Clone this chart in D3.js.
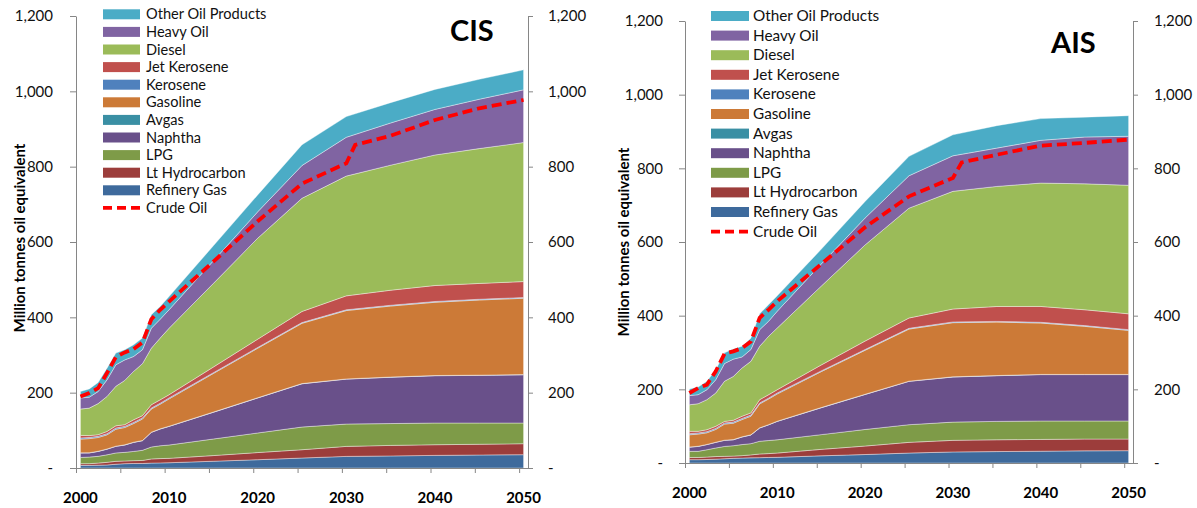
<!DOCTYPE html>
<html>
<head>
<meta charset="utf-8">
<script src="https://cdn.jsdelivr.net/npm/d3@7"></script>
<style>
body{margin:0;background:#fff;}
svg{font-family:Lato,"Open Sans",sans-serif;}
.axis path,.axis line{stroke:#868686;}
.axis text{font-size:15px;fill:#111;font-family:Lato,"Open Sans",sans-serif;}
</style>
</head>
<body>
<svg id="chart" width="1197" height="508"></svg>
<script>
// years used by the stacked areas and by the crude oil line
var stackYears = [2000,2001,2002,2003,2004,2005,2006,2007,2008,2009,2010,2015,2020,2025,2030,2035,2040,2045,2050];
var crudeYears = [2000,2001,2002,2003,2004,2005,2006,2007,2008,2009,2010,2015,2020,2025,2030,2031,2035,2040,2045,2050];

// bottom to top
var seriesKeys = ["Refinery Gas","Lt Hydrocarbon","LPG","Naphtha","Avgas","Gasoline","Kerosene","Jet Kerosene","Diesel","Heavy Oil","Other Oil Products"];
var seriesColors = ["#3E6A9C","#9C3D3B","#7E9B48","#69508A","#3A8FA4","#CC7A37","#4F81BD","#C0504D","#9BBB59","#8064A2","#4BACC6"];

var yTicks = [0,200,400,600,800,1000,1200];
var xLabelYears = [2000,2010,2020,2030,2040,2050];

// CIS (million tonnes oil equivalent)
var cisRefinery = [7,7,7.5,8,10,11.5,12,12,13,13.5,14,18,22,26.5,30.8,32,33.5,34.5,35.3];
var cisLtHydro = [4.5,4.5,5.5,7,7.7,7.1,7.5,8,11,11.5,11.6,15,19,22,26.6,28,28.3,28.5,29.2];
var cisLPG = [16.5,17.5,18,20,22.3,22.9,24.5,27,31.7,34,35.4,44,52,60.3,59.3,58,57.6,56.4,54.9];
var cisNaphtha = [11.8,11,13,15,17.5,19.5,24,25.5,38.9,44.5,49.5,71,93,114.8,119.3,123,125.6,126.6,128.1];
var cisAvgas = [0.5,0.5,0.5,0.5,0.5,0.5,0.5,0.5,0.5,0.5,0.5,0.5,0.5,0.5,0.5,0.5,0.5,0.5,0.5];
var cisGasoline = [36.3,37.5,36.5,37.5,45,46,49.5,57,61.4,65.5,72.5,102.5,131.5,160,181.5,188.5,194.5,199.5,202.6];
var cisKerosene = [3,3,3,3,3,3,3,3,2.5,2.5,2.5,2,2,2,2,2,2,2,2];
var cisJet = [7,5,4.4,6,6,4.5,7,6,9,9,8.5,15,22,29.5,37,40,42.5,42,42.4];
var cisDiesel = [69.9,73,82.6,93,105,117.5,128.5,138,150,164,176.5,222,268,300.5,318,332,346.5,358,369];
var cisHeavy = [29.5,29,32,44,57,54.5,39.5,37,53,50,49,60,70,87,103,112,121,131,140];
var cisOther = [17,22,24,31,31,27,31,31,36,34,35,40,45,55,55,54,53,53,53];
var cisCrude = [190,199,212,252,294.5,307,316,333,395,420,442,548,655,755,809,858,882,924,955,977];

// AIS
var aisRefinery = [9,9,9.5,10.5,11.5,12.7,13.3,14,14.5,15,15.4,19.5,23,27,30,31,32,33,33.5];
var aisLtHydro = [6,6,6.5,7,6.5,6,6.7,8,9.9,10.5,11.6,17.5,23,29,31.5,32,32,32,31.5];
var aisLPG = [16.7,16.7,20,23.2,27,28.3,30,30.5,34.6,35.5,36,40,45,48,49.5,50,50,49,49];
var aisNaphtha = [11.3,13.3,14,15.3,16.5,16,20.6,23.5,36,42.5,50,73,95,117.7,122.5,124,126,126,126];
var aisAvgas = [0.5,0.5,0.5,0.5,0.5,0.5,0.5,0.5,0.5,0.5,0.5,0.5,0.5,0.5,0.5,0.5,0.5,0.5,0.5];
var aisGasoline = [33.1,33,31.5,34.5,43.6,44.5,46.9,50.5,65,69.5,74,97.5,119.5,141.4,147,145,139.5,130.5,119.5];
var aisKerosene = [3,3,3,3,3,3,3,3,2.5,2.5,2.5,2,2,2,2,2,2,2,2];
var aisJet = [6.4,4.5,5.5,5.5,4.4,5,6,6,9,9,9,16,23,28,35,40.4,43,43,43];
var aisDiesel = [72,75,81.5,90.5,109,119,131,140,145,158.5,167.5,214,261,298.3,319.6,326,335,342,349];
var aisHeavy = [25,24.5,27,36,48,47,30,32,45,41,45.5,60,73,88,96.4,104,116,127,133];
var aisOther = [18,20.5,23,27,29,27.5,29,31,43,45,42,40,45,52.6,57,61,59,54,56];
var aisCrude = [190,203.6,212.7,249,297,303,312,330,394,416,439,540,640,724,774,816,837,861.6,869,878];

var makeRows = function(arrays)
{
    return stackYears.map(function(yr,i)
    {
        var row = {year:yr};
        seriesKeys.forEach(function(k,j){ row[k] = arrays[j][i]; });
        return row;
    });
}

var svg = d3.select("#chart");

var drawPanel = function(rows,crude,p)
{
    var xScale = d3.scaleLinear().domain([1999.5,2050.5]).range([p.left,p.right]);
    var yScale = d3.scaleLinear().domain([0,1200]).range([p.bottom,p.top]);
    var colorScale = d3.scaleOrdinal().domain(seriesKeys).range(seriesColors);

    var stacked = d3.stack().keys(seriesKeys)(rows);
    var area = d3.area()
        .x(function(d){ return xScale(d.data.year); })
        .y0(function(d){ return yScale(d[0]); })
        .y1(function(d){ return yScale(d[1]); });

    var g = svg.append("g");
    g.selectAll("path.layer")
        .data(stacked)
        .enter()
        .append("path")
        .attr("class","layer")
        .attr("d",area)
        .attr("fill",function(s){ return colorScale(s.key); })
        .attr("stroke","rgba(255,255,255,0.55)")
        .attr("stroke-width",0.7);

    var line = d3.line()
        .x(function(d,i){ return xScale(crudeYears[i]); })
        .y(function(d){ return yScale(d); });
    g.append("path")
        .datum(crude)
        .attr("d",line)
        .attr("fill","none")
        .attr("stroke","#FF0000")
        .attr("stroke-width",3.8)
        .attr("stroke-dasharray","10,5");

    var fmt = function(v){ return v==0 ? "-" : d3.format(",")(v); };

    svg.append("g").attr("class","axis")
        .attr("transform","translate("+p.left+",0)")
        .call(d3.axisLeft(yScale).tickValues(yTicks).tickFormat(fmt).tickSize(6).tickSizeOuter(0).tickPadding(p.leftPad));
    svg.append("g").attr("class","axis")
        .attr("transform","translate("+p.right+",0)")
        .call(d3.axisRight(yScale).tickValues(yTicks).tickFormat(fmt).tickSize(5).tickSizeOuter(0).tickPadding(p.rightPad))
        .selectAll("text").attr("x",p.rightPad+5);

    var xTicks = d3.range(0,11).map(function(k){ return 1999.5+5*k; });
    svg.append("g").attr("class","axis")
        .attr("transform","translate(0,"+p.bottom+")")
        .call(d3.axisBottom(xScale).tickValues(xTicks).tickFormat("").tickSize(5).tickSizeOuter(0));

    svg.append("g").selectAll("text")
        .data(xLabelYears)
        .enter()
        .append("text")
        .text(function(d){ return d; })
        .attr("x",function(d){ return xScale(d); })
        .attr("y",p.xLabelY)
        .attr("text-anchor","middle")
        .attr("font-weight","bold")
        .attr("font-size","15px");

    svg.append("text")
        .text("Million tonnes oil equivalent")
        .attr("text-anchor","middle")
        .attr("font-weight","bold")
        .attr("font-size","15px")
        .attr("transform","translate("+p.yTitleX+","+p.yTitleY+") rotate(-90)");

    svg.append("text")
        .text(p.title)
        .attr("x",p.titleX)
        .attr("y",p.titleY)
        .attr("font-weight","bold")
        .attr("font-size","29px");

    // legend, top entry first
    var entries = seriesKeys.slice().reverse().map(function(k){ return {name:k,color:colorScale(k),line:false}; });
    entries.push({name:"Crude Oil",color:"#FF0000",line:true});

    var legend = svg.append("g")
        .attr("transform","translate("+p.legendX+","+p.legendY+")");
    var items = legend.selectAll("g")
        .data(entries)
        .enter()
        .append("g")
        .attr("transform",function(d,i){ return "translate(0,"+(i*p.legendStep)+")"; });

    items.filter(function(d){ return !d.line; })
        .append("rect")
        .attr("x",0).attr("y",-5)
        .attr("width",p.swatchW).attr("height",10)
        .attr("fill",function(d){ return d.color; });
    items.filter(function(d){ return d.line; })
        .append("line")
        .attr("x1",0).attr("x2",p.swatchW).attr("y1",0).attr("y2",0)
        .attr("stroke","#FF0000").attr("stroke-width",3.8)
        .attr("stroke-dasharray","9,5");
    items.append("text")
        .text(function(d){ return d.name; })
        .attr("x",p.swatchW+p.textGap)
        .attr("y",5)
        .attr("font-size",p.legendFont+"px")
        .attr("fill","#111");
}

var cisRows = makeRows([cisRefinery,cisLtHydro,cisLPG,cisNaphtha,cisAvgas,cisGasoline,cisKerosene,cisJet,cisDiesel,cisHeavy,cisOther]);
var aisRows = makeRows([aisRefinery,aisLtHydro,aisLPG,aisNaphtha,aisAvgas,aisGasoline,aisKerosene,aisJet,aisDiesel,aisHeavy,aisOther]);

drawPanel(cisRows,cisCrude,{
    left:76,right:528,top:16,bottom:468,leftPad:17,rightPad:15,
    xLabelY:503,yTitleX:25,yTitleY:238,
    title:"CIS",titleX:450,titleY:41,
    legendX:103,legendY:14.3,legendStep:17.6,legendFont:14.6,swatchW:37,textGap:6
});
drawPanel(aisRows,aisCrude,{
    left:685,right:1133,top:21,bottom:463,leftPad:16,rightPad:16,
    xLabelY:498,yTitleX:629,yTitleY:242,
    title:"AIS",titleX:1051,titleY:52.7,
    legendX:711,legendY:16,legendStep:19.6,legendFont:15.3,swatchW:38,textGap:4
});
</script>
</body>
</html>
